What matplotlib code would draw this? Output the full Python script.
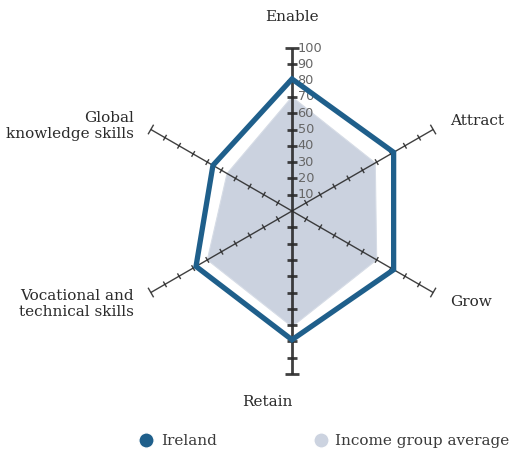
import numpy as np
import matplotlib
matplotlib.use("Agg")
import matplotlib.pyplot as plt
from matplotlib.lines import Line2D

# pillars, clockwise from the top
categories = ["Enable", "Attract", "Grow", "Retain",
              "Vocational and\ntechnical skills", "Global\nknowledge skills"]
ireland = [81, 72, 72, 79, 68, 56]
income_avg = [70, 59, 60, 71, 60, 46]
tick_values = list(range(10, 101, 10))

IRL = "#1f5f8b"
AVG = "#cbd2df"
AX = "#2b2b2b"
SERIF = "DejaVu Serif"

angles = np.deg2rad([90, 30, -30, -90, -150, 150])

def xy(vals):
    v = np.asarray(vals, dtype=float)
    return v * np.cos(angles), v * np.sin(angles)

W, H, DPI = 512, 454, 100
cx, cy, R = 292, 211, 163.0   # centre in pixels, radius of 100
s = R / 100.0
fig = plt.figure(figsize=(W / DPI, H / DPI), dpi=DPI)
ax = fig.add_axes([0, 0, 1, 1])
ax.set_xlim(-cx / s, (W - cx) / s)
ax.set_ylim(-(H - cy) / s, cy / s)
ax.axis("off")

# income group average (under the spokes)
x, y = xy(income_avg)
ax.fill(x, y, color=AVG, lw=0.8, ec="#d6dce6", zorder=1)

# spokes with ticks
for i, a in enumerate(angles):
    ux, uy = np.cos(a), np.sin(a)
    px, py = -uy, ux
    vertical = i in (0, 3)
    lw = 2.0 if vertical else 1.0
    ax.plot([0, 100 * ux], [0, 100 * uy], color=AX, lw=lw, zorder=2,
            solid_capstyle="butt", alpha=0.9)
    for t in tick_values:
        half = (2.8 if vertical else 2.0) if t < 100 else (4.2 if vertical else 3.4)
        ax.plot([t * ux - half * px, t * ux + half * px],
                [t * uy - half * py, t * uy + half * py],
                color=AX, lw=lw, zorder=2, solid_capstyle="butt", alpha=0.9)

for t in tick_values:
    ax.text(3.4, t, str(t), ha="left", va="center", fontsize=9.3,
            color="#666666", zorder=2)

# Ireland
x, y = xy(ireland)
ax.fill(x, y, facecolor="none", edgecolor=IRL, lw=3.8, joinstyle="miter",
        zorder=4)

# pillar labels
lab_kw = dict(fontsize=11, color="#2b2b2b", family=SERIF)
ax.text(0, 119, categories[0], ha="center", va="center", **lab_kw)
ax.text(97, 55, categories[1], ha="left", va="center", **lab_kw)
ax.text(97, -56, categories[2], ha="left", va="center", **lab_kw)
ax.text(-15, -117, categories[3], ha="center", va="center", **lab_kw)
ax.text(-132, -57, categories[4], ha="center", va="center",
        multialignment="center", linespacing=1.2, **lab_kw)
ax.text(-97, 52, categories[5], ha="right", va="center",
        multialignment="right", linespacing=1.2, **lab_kw)

handles = [
    Line2D([0], [0], marker="o", color="w", markerfacecolor=IRL,
           markersize=11, label="Ireland"),
    Line2D([0], [0], marker="o", color="w", markerfacecolor="#ccd3e0",
           markersize=11, label="Income group average"),
]
fig.legend(handles=handles, loc="center", bbox_to_anchor=(324 / W, 1 - 441 / H),
           ncol=2, frameon=False, columnspacing=6.3, handletextpad=0.45,
           handlelength=1.0, labelcolor="#3a3a3a",
           prop={"family": SERIF, "size": 11})

fig.savefig("out.png", dpi=DPI)
